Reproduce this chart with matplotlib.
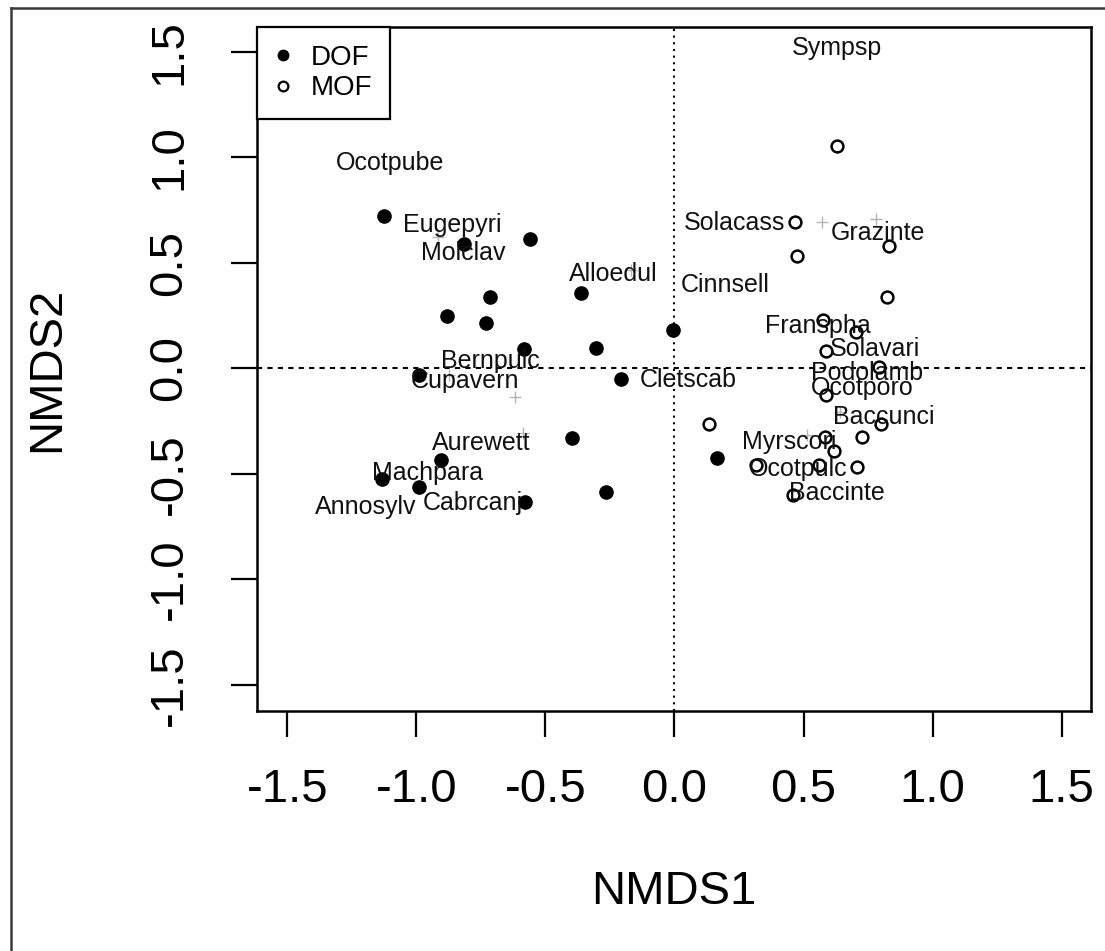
import numpy as np
import matplotlib
matplotlib.use("Agg")
import matplotlib.pyplot as plt
from matplotlib.lines import Line2D

plt.rcParams['font.family'] = ['Liberation Sans', 'DejaVu Sans']

# site scores, DOF (filled)
dof_x = [-1.127, -0.817, -0.559, -0.361, -0.716, -0.881, -0.729, -0.585, -0.303, -0.006,
         -0.990, -0.209, -0.396, -0.904, -1.134, -0.989, -0.581, -0.264, 0.164]
dof_y = [0.723, 0.589, 0.611, 0.358, 0.339, 0.248, 0.213, 0.090, 0.096, 0.181,
         -0.032, -0.052, -0.329, -0.435, -0.526, -0.561, -0.632, -0.588, -0.427]

# site scores, MOF (open)
mof_x = [0.631, 0.468, 0.831, 0.474, 0.825, 0.577, 0.703, 0.587, 0.793, 0.587,
         0.135, 0.799, 0.585, 0.728, 0.619, 0.315, 0.560, 0.709, 0.460]
mof_y = [1.054, 0.693, 0.580, 0.532, 0.339, 0.229, 0.172, 0.083, 0.005, -0.128,
         -0.265, -0.265, -0.324, -0.327, -0.393, -0.460, -0.460, -0.469, -0.600]

# labelled species
species = ['Sympsp', 'Ocotpube', 'Eugepyri', 'Molclav', 'Alloedul', 'Bernpulc', 'Cupavern',
           'Cletscab', 'Aurewett', 'Machpara', 'Annosylv', 'Cabrcanj', 'Solacass', 'Grazinte',
           'Cinnsell', 'Franspha', 'Solavari', 'Podolamb', 'Ocotporo', 'Baccunci', 'Myrscori',
           'Ocotpulc', 'Baccinte']
sp_x = [0.631, -1.103, -0.861, -0.820, -0.236, -0.714, -0.811,
        0.052, -0.749, -0.958, -1.195, -0.781, 0.234, 0.790,
        0.196, 0.557, 0.777, 0.745, 0.726, 0.809, 0.444,
        0.480, 0.629]
sp_y = [1.517, 0.972, 0.679, 0.545, 0.447, 0.036, -0.059,
        -0.055, -0.356, -0.498, -0.656, -0.637, 0.687, 0.643,
        0.395, 0.200, 0.090, -0.021, -0.092, -0.232, -0.348,
        -0.479, -0.593]

# unlabelled species (grey +)
plus_x = [-0.917, -0.875, -0.619, -0.587, -0.167, 0.571, 0.780, 0.512, 0.641]
plus_y = [0.621, -0.032, -0.135, -0.308, 0.466, 0.695, 0.708, -0.316, -0.206]

fig = plt.figure(figsize=(11.05, 9.51), dpi=100)
ax = fig.add_axes([0.2323, 0.2524, 0.7548, 0.7192])

ax.axhline(0, color='black', lw=1.5, ls=(0, (2.5, 2.5)), zorder=1)
ax.axvline(0, color='black', lw=1.5, ls=(0, (1, 2.2)), zorder=1)

ax.plot(plus_x, plus_y, '+', color='#b5b5b5', ms=8, mew=1, zorder=2)
ax.plot(dof_x, dof_y, 'o', color='black', ms=9.5, zorder=3)
ax.plot(mof_x, mof_y, 'o', mfc='white', mec='black', ms=8.5, mew=1.8, zorder=3)

for name, x, y in zip(species, sp_x, sp_y):
    ax.text(x, y, name, ha='center', va='center', fontsize=18, color='#111111', zorder=4)

ax.set_xlim(-1.619, 1.613)
ax.set_ylim(-1.624, 1.617)
ticks = [-1.5, -1.0, -0.5, 0.0, 0.5, 1.0, 1.5]
ax.set_xticks(ticks)
ax.set_yticks(ticks)
ax.set_xticklabels(['%.1f' % t for t in ticks])
ax.set_yticklabels(['%.1f' % t for t in ticks], rotation=90, va='center')
ax.tick_params(axis='both', length=19, width=1.6, labelsize=34, color='black')
ax.tick_params(axis='x', pad=22)
ax.tick_params(axis='y', pad=28)
for s in ax.spines.values():
    s.set_linewidth(1.8)

ax.set_xlabel('NMDS1', fontsize=34)
ax.set_ylabel('NMDS2', fontsize=34)
ax.xaxis.set_label_coords(0.5, -0.265)
ax.xaxis.label.set_va('center')
ax.yaxis.set_label_coords(-0.2515, 0.5)
ax.yaxis.label.set_va('center')

handles = [Line2D([], [], marker='o', ls='', color='black', ms=7.5),
           Line2D([], [], marker='o', ls='', mfc='white', mec='black', ms=7, mew=1.6)]
leg = ax.legend(handles, ['DOF', 'MOF'], loc='upper left', fontsize=20,
                frameon=True, fancybox=False, framealpha=1, edgecolor='black',
                borderaxespad=0, handlelength=0.6, handletextpad=0.7,
                labelspacing=0.15, borderpad=0.65)
leg.get_frame().set_linewidth(1.6)

# outer frame (only top and left visible)
fig.add_artist(Line2D([0.0100, 1.0], [0.9916, 0.9916], color='#3a3a3a', lw=1.8,
                      transform=fig.transFigure))
fig.add_artist(Line2D([0.0100, 0.0100], [0.0, 0.9916], color='#3a3a3a', lw=1.8,
                      transform=fig.transFigure))

fig.savefig('out.png', dpi=100)
